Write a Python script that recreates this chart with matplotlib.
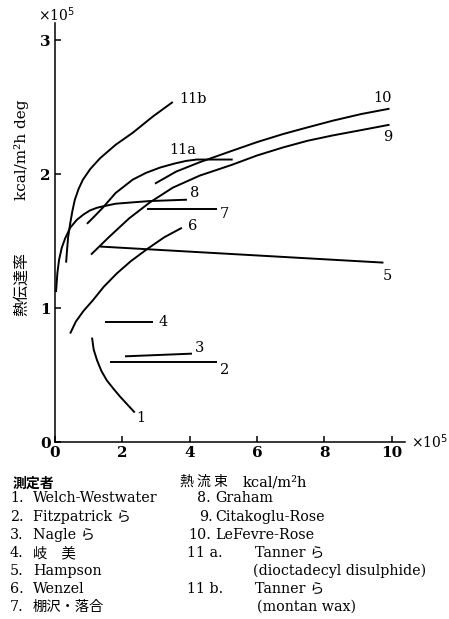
import matplotlib.pyplot as plt
import numpy as np

# curve data (x: 1e5 kcal/m2h, y: 1e5 kcal/m2h deg)
x1 = [1.10, 1.15, 1.25, 1.38, 1.54, 1.73, 1.93, 2.15, 2.37]
y1 = [0.78, 0.69, 0.61, 0.53, 0.46, 0.40, 0.34, 0.28, 0.22]
x2 = [1.63, 4.80]
y2 = [0.60, 0.60]
x3 = [2.08, 4.07]
y3 = [0.64, 0.66]
x4 = [1.48, 2.91]
y4 = [0.90, 0.90]
x5 = [1.34, 9.76]
y5 = [1.46, 1.34]
x6 = [0.45, 0.62, 0.85, 1.13, 1.45, 1.84, 2.25, 2.73, 3.25, 3.77]
y6 = [0.81, 0.90, 0.98, 1.06, 1.16, 1.26, 1.35, 1.44, 1.53, 1.60]
x7 = [2.73, 4.80]
y7 = [1.74, 1.74]
x8 = [0.03, 0.07, 0.12, 0.20, 0.30, 0.45, 0.65, 0.85, 1.04, 1.25, 1.42, 1.80, 2.30, 2.82, 3.92]
y8 = [1.12, 1.26, 1.36, 1.45, 1.52, 1.60, 1.66, 1.70, 1.73, 1.75, 1.76, 1.78, 1.79, 1.80, 1.81]
x9 = [1.07, 1.60, 2.20, 2.82, 3.50, 4.30, 5.25, 6.00, 6.77, 7.50, 8.25, 9.10, 9.94]
y9 = [1.40, 1.53, 1.67, 1.79, 1.90, 1.99, 2.07, 2.14, 2.20, 2.25, 2.29, 2.33, 2.37]
x10 = [2.97, 3.60, 4.30, 5.20, 6.00, 6.77, 7.50, 8.25, 9.10, 9.94]
y10 = [1.93, 2.02, 2.09, 2.17, 2.24, 2.30, 2.35, 2.40, 2.45, 2.49]
x11a = [0.95, 1.15, 1.42, 1.80, 2.31, 2.70, 3.12, 3.55, 3.90, 4.21, 5.28]
y11a = [1.63, 1.68, 1.75, 1.86, 1.96, 2.01, 2.05, 2.08, 2.10, 2.11, 2.11]
x11b = [0.33, 0.36, 0.39, 0.45, 0.52, 0.59, 0.70, 0.83, 1.05, 1.34, 1.80, 2.31, 2.90, 3.50]
y11b = [1.34, 1.44, 1.53, 1.63, 1.73, 1.81, 1.89, 1.96, 2.04, 2.12, 2.22, 2.31, 2.43, 2.54]

curves = [(x1, y1), (x2, y2), (x3, y3), (x4, y4), (x5, y5), (x6, y6), (x7, y7),
          (x8, y8), (x9, y9), (x10, y10), (x11a, y11a), (x11b, y11b)]

curve_labels = ['1', '2', '3', '4', '5', '6', '7', '8', '9', '10', '11a', '11b']
label_pos = [(2.55, 0.18), (5.04, 0.54), (4.30, 0.70), (3.20, 0.90), (9.88, 1.24),
             (4.10, 1.61), (5.04, 1.70), (4.15, 1.86), (9.88, 2.28), (9.73, 2.57),
             (3.80, 2.18), (4.10, 2.56)]

xticks = [0, 2, 4, 6, 8, 10]
yticks = [0, 1, 2, 3]

legend_left_no = ['1.', '2.', '3.', '4.', '5.', '6.', '7.']
legend_left = ['Welch-Westwater', 'Fitzpatrick ら', 'Nagle ら', '岐　美',
               'Hampson', 'Wenzel', '棚沢・落合']
legend_right_no = ['8.', '9.', '10.', '11 a.', '', '11 b.', '']
legend_right = ['Graham', 'Citakoglu-Rose', 'LeFevre-Rose', 'Tanner ら',
                '(dioctadecyl disulphide)', 'Tanner ら', '(montan wax)']

W, H = 449, 619
fam = ['DejaVu Serif', 'Noto Sans CJK JP']
jfam = ['Noto Sans CJK JP', 'DejaVu Serif']
plt.rcParams['font.family'] = fam

fig = plt.figure(figsize=(W / 100, H / 100), dpi=100)
ax = fig.add_axes([55 / W, (H - 442) / H, 350 / W, 419 / H])

for xs, ys in curves:
    ax.plot(xs, ys, color='black', lw=1.4, solid_capstyle='butt', solid_joinstyle='round')

for txt, (lx, ly) in zip(curve_labels, label_pos):
    ax.text(lx, ly, txt, fontsize=10.5, ha='center', va='center', family=fam)

ax.set_xlim(0, 10.4)
ax.set_ylim(0, 3.13)
ax.spines['top'].set_visible(False)
ax.spines['right'].set_visible(False)
ax.spines['left'].set_linewidth(1.1)
ax.spines['bottom'].set_linewidth(1.1)
ax.set_xticks(xticks)
ax.set_yticks(yticks)
ax.tick_params(direction='in', length=4, width=1.1, labelsize=11, pad=3)
for lab in ax.get_xticklabels() + ax.get_yticklabels():
    lab.set_fontweight('bold')

# axis titles
fig.text(22 / W, 1 - 150 / H, 'kcal/m²h deg', rotation=90, ha='center', va='center',
         fontsize=11, family=fam)
fig.text(22 / W, 1 - 284 / H, '熱伝達率', rotation=90, ha='center', va='center',
         fontsize=11.5, family=jfam)
fig.text(204 / W, 1 - 482 / H, '熱 流 束', ha='center', va='center',
         fontsize=10, family=jfam)
fig.text(243 / W, 1 - 482 / H, 'kcal/m²h', ha='left', va='center',
         fontsize=10.5, family=fam)
fig.text(38 / W, 1 - 15 / H, '×10$^5$', ha='left', va='center', fontsize=10)
fig.text(411 / W, 1 - 442 / H, '×10$^5$', ha='left', va='center', fontsize=10)

# legend of authors
fig.text(13 / W, 1 - 484 / H, '測定者', ha='left', va='center', fontsize=10,
         fontweight='bold', family=['Noto Sans CJK JP'])
row_y = [498, 517, 535, 553, 571, 589, 607]
right_no_x = [197, 199, 188, 187, 0, 187, 0]
right_x = [215, 215, 215, 255, 253, 255, 257]
for ry, n, t in zip(row_y, legend_left_no, legend_left):
    fig.text(10 / W, 1 - ry / H, n, ha='left', va='center', fontsize=10.3, family=fam)
    fig.text(33 / W, 1 - ry / H, t, ha='left', va='center', fontsize=10.3, family=fam)
for ry, nx, rx, n, t in zip(row_y, right_no_x, right_x, legend_right_no, legend_right):
    if n:
        fig.text(nx / W, 1 - ry / H, n, ha='left', va='center', fontsize=10.3, family=fam)
    fig.text(rx / W, 1 - ry / H, t, ha='left', va='center', fontsize=10.3, family=fam)

fig.savefig('out.png', dpi=100)
